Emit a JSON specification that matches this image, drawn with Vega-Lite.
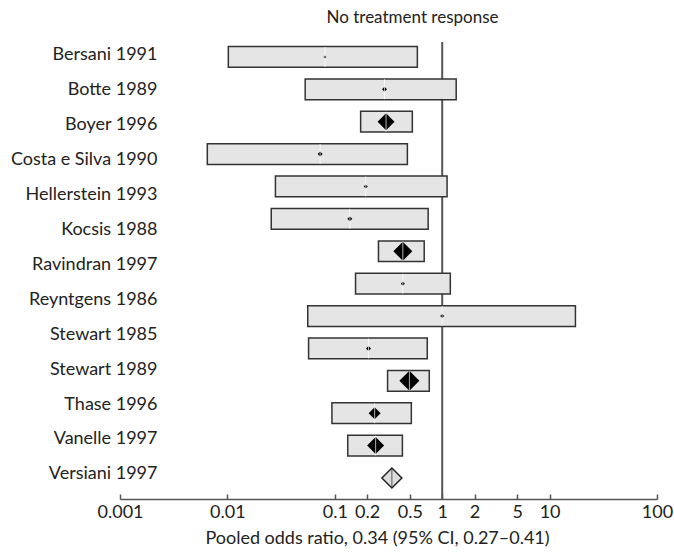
{
  "$schema": "https://vega.github.io/schema/vega-lite/v6.json",
  "width": 537,
  "height": 457,
  "autosize": {"type": "none"},
  "padding": {"left": 120, "top": 42, "right": 17, "bottom": 58},
  "background": "white",
  "config": {
    "view": {"stroke": null},
    "font": "Lato",
    "axis": {"labelFont": "Lato", "titleFont": "Lato", "labelColor": "#222", "titleColor": "#222", "grid": false}
  },
  "title": {"text": "No treatment response", "anchor": "middle", "dx": 24, "offset": 14, "fontSize": 17, "fontWeight": "normal", "font": "Lato", "color": "#222"},
  "datasets": {
    "studies": [
      {"study": "Bersani 1991", "or": 0.081, "lo": 0.0102, "hi": 0.587, "weight": 0.5},
      {"study": "Botte 1989", "or": 0.29, "lo": 0.053, "hi": 1.35, "weight": 1.5},
      {"study": "Boyer 1996", "or": 0.30, "lo": 0.174, "hi": 0.527, "weight": 17.6},
      {"study": "Costa e Silva 1990", "or": 0.073, "lo": 0.0065, "hi": 0.474, "weight": 1.5},
      {"study": "Hellerstein 1993", "or": 0.194, "lo": 0.028, "hi": 1.11, "weight": 1.0},
      {"study": "Kocsis 1988", "or": 0.138, "lo": 0.0256, "hi": 0.74, "weight": 1.5},
      {"study": "Ravindran 1997", "or": 0.43, "lo": 0.255, "hi": 0.68, "weight": 22.0},
      {"study": "Reyntgens 1986", "or": 0.43, "lo": 0.156, "hi": 1.19, "weight": 1.0},
      {"study": "Stewart 1985", "or": 1.0, "lo": 0.056, "hi": 17.4, "weight": 1.0},
      {"study": "Stewart 1989", "or": 0.206, "lo": 0.057, "hi": 0.726, "weight": 1.5},
      {"study": "Thase 1996", "or": 0.495, "lo": 0.31, "hi": 0.758, "weight": 24.4},
      {"study": "Vanelle 1997", "or": 0.235, "lo": 0.094, "hi": 0.516, "weight": 8.8},
      {"study": "Versiani 1997", "or": 0.24, "lo": 0.132, "hi": 0.426, "weight": 17.6}
    ],
    "pooled": [
      {"study": "Pooled", "or": 0.34, "lo": 0.27, "hi": 0.41}
    ]
  },
  "resolve": {"scale": {"y": "independent"}},
  "layer": [
    {
      "layer": [
        {
          "data": {"name": "pooled"},
          "mark": {"type": "rule", "color": "#555", "strokeWidth": 2},
          "encoding": {"x": {"datum": 1, "type": "quantitative"}}
        },
        {
          "data": {"name": "studies"},
          "mark": {"type": "rect", "fill": "#e5e5e5", "stroke": "#333", "strokeWidth": 1.5},
          "encoding": {
            "y": {
              "field": "study", "type": "nominal", "sort": null,
              "scale": {
                "domain": ["Bersani 1991", "Botte 1989", "Boyer 1996", "Costa e Silva 1990", "Hellerstein 1993", "Kocsis 1988", "Ravindran 1997", "Reyntgens 1986", "Stewart 1985", "Stewart 1989", "Thase 1996", "Vanelle 1997", "Versiani 1997", "Pooled"],
                "paddingInner": 0.36, "paddingOuter": 0.236, "align": 0.3
              },
              "axis": null
            },
            "x": {
              "field": "lo", "type": "quantitative",
              "scale": {"type": "log", "domain": [0.001, 100], "nice": false},
              "axis": {
                "values": [0.001, 0.01, 0.1, 0.2, 0.5, 1, 2, 5, 10, 100],
                "format": "~g",
                "tickSize": -5,
                "tickColor": "#555",
                "tickWidth": 1.5,
                "domainColor": "#555",
                "domainWidth": 1.5,
                "labelFontSize": 18,
                "labelPadding": 9,
                "labelFlush": false,
                "labelOverlap": false,
                "title": "Pooled odds ratio, 0.34 (95% CI, 0.27–0.41)",
                "titleFontSize": 18,
                "titleFontWeight": "normal",
                "titlePadding": 8,
                "titleX": 257
              }
            },
            "x2": {"field": "hi"}
          }
        },
        {
          "data": {"name": "studies"},
          "mark": {"type": "point", "shape": "diamond", "filled": true, "color": "black", "opacity": 1},
          "encoding": {
            "y": {"field": "study", "type": "nominal", "sort": null},
            "x": {"field": "or", "type": "quantitative"},
            "size": {"field": "weight", "type": "quantitative", "scale": {"domain": [0, 25], "range": [0, 410]}, "legend": null}
          }
        },
        {
          "data": {"name": "studies"},
          "mark": {"type": "tick", "orient": "vertical", "color": "white", "thickness": 1, "size": 20},
          "encoding": {
            "y": {"field": "study", "type": "nominal", "sort": null},
            "x": {"field": "or", "type": "quantitative"}
          }
        },
        {
          "data": {"name": "pooled"},
          "mark": {"type": "point", "shape": "diamond", "filled": true, "fill": "#dcdcdc", "stroke": "#222", "strokeWidth": 1.5, "opacity": 1, "size": 400},
          "encoding": {
            "y": {"field": "study", "type": "nominal", "sort": null},
            "x": {"field": "or", "type": "quantitative"}
          }
        },
        {
          "data": {"name": "pooled"},
          "mark": {"type": "tick", "orient": "vertical", "color": "#222", "thickness": 1, "size": 18},
          "encoding": {
            "y": {"field": "study", "type": "nominal", "sort": null},
            "x": {"field": "or", "type": "quantitative"}
          }
        }
      ]
    },
    {
      "data": {"name": "studies"},
      "mark": {"type": "point", "opacity": 0},
      "encoding": {
        "x": {"field": "or", "type": "quantitative"},
        "y": {
          "field": "study", "type": "nominal", "sort": null,
          "scale": {"type": "point", "padding": 0.545, "align": 0.34},
          "axis": {"orient": "left", "title": null, "ticks": false, "tickSize": 0, "domain": false, "offset": -39, "labelPadding": 2, "labelFontSize": 18, "labelColor": "#222"}
        }
      }
    }
  ]
}
